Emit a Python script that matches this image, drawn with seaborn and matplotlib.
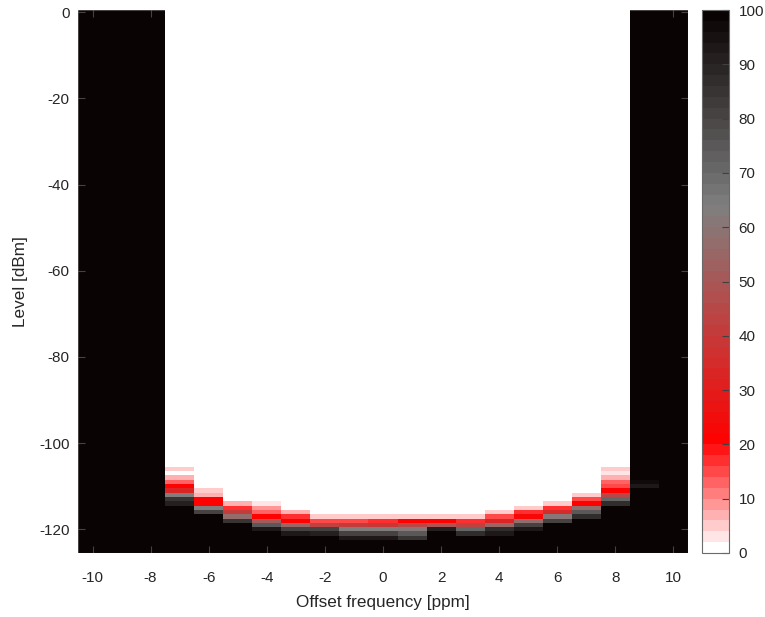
import numpy as np
import pandas as pd
import matplotlib
matplotlib.use("Agg")
import matplotlib.pyplot as plt
import seaborn as sns
from matplotlib.colors import LinearSegmentedColormap

plt.rcParams['font.family'] = ['Liberation Sans', 'DejaVu Sans']

# ---- data ----
freqs = list(range(-10, 11))            # offset frequency [ppm]
levels = list(range(0, -126, -1))       # level [dBm]
black_cols = [-10, -9, -8, 9, 10]       # columns that are 100 % everywhere
curve_freqs = list(range(-7, 9))
curve_top = [-106, -111, -114, -114, -116, -117, -117, -117,
             -117, -117, -117, -116, -115, -114, -112, -106]
p_m7 = [5, 1, 6, 12, 20, 33, 62, 85, 90]
p_m6 = [4, 7, 20, 21, 62, 80]
p_m5 = [6, 17, 40, 58, 85]
p_m4 = [3, 8, 12, 20, 50, 75, 92]
p_m3 = [6, 16, 21, 55, 80, 92]
p_m2 = [5, 15, 42, 80, 90]
p_m1 = [5, 15, 40, 63, 80, 92]
p_0 = [4, 16, 38, 62, 80, 92]
p_1 = [5, 20, 45, 60, 75, 85]
p_2 = [4, 20, 48, 90]
p_3 = [5, 16, 42, 70, 87]
p_4 = [5, 15, 33, 55, 87, 92]
p_5 = [4, 17, 22, 58, 80, 92]
p_6 = [5, 16, 35, 60, 80]
p_7 = [5, 15, 21, 58, 75, 87]
p_8 = [4, 2, 7, 12, 15, 21, 45, 70, 87]
profiles = [p_m7, p_m6, p_m5, p_m4, p_m3, p_m2, p_m1, p_0,
            p_1, p_2, p_3, p_4, p_5, p_6, p_7, p_8]
col9_levels = [-109, -110]
col9_values = [96, 93]

xticks = [-10, -8, -6, -4, -2, 0, 2, 4, 6, 8, 10]
yticks = [0, -20, -40, -60, -80, -100, -120]
cticks = [0, 10, 20, 30, 40, 50, 60, 70, 80, 90, 100]

# ---- build matrix ----
df = pd.DataFrame(100.0, index=levels, columns=freqs)
for f, top, prof in zip(curve_freqs, curve_top, profiles):
    col = np.full(len(levels), 100.0)
    for i, L in enumerate(levels):
        k = top - L
        if L > top:
            col[i] = 0.0
        elif k < len(prof):
            col[i] = prof[k]
    df[f] = col
for L, v in zip(col9_levels, col9_values):
    df.loc[L, 9] = v

# ---- colormap ----
cmap = LinearSegmentedColormap.from_list(
    "wrgk",
    [(0.0, (1, 1, 1)), (0.20, (1, 0, 0)), (0.64, (0.5, 0.5, 0.5)),
     (1.0, (0.04, 0.01, 0.01))]).resampled(50)

fig = plt.figure(figsize=(7.65, 6.17), dpi=100)
ax = fig.add_axes([78 / 765, (617 - 553) / 617, 610 / 765, 543 / 617])
cax = fig.add_axes([702 / 765, (617 - 553) / 617, 27 / 765, 543 / 617])

sns.heatmap(df, ax=ax, cbar_ax=cax, cmap=cmap, vmin=0, vmax=100,
            xticklabels=False, yticklabels=False, rasterized=True)

text_c = '#262626'
faint = (1, 1, 1, 0.25)
ax.set_xticks([freqs.index(t) + 0.5 for t in xticks])
ax.set_xticklabels([str(t) for t in xticks])
ax.set_yticks([levels.index(t) + 0.5 for t in yticks])
ax.set_yticklabels([str(t) for t in yticks])
ax.tick_params(axis='both', direction='in', length=5, color=faint,
               labelcolor=text_c, labelsize=11, top=True, right=True,
               labeltop=False, labelright=False)
ax.tick_params(axis='x', pad=13)
ax.tick_params(axis='y', pad=6, rotation=0)
for s in ax.spines.values():
    s.set_visible(True)
    s.set_color(faint)
    s.set_linewidth(0.8)
ax.set_xlabel('Offset frequency [ppm]', fontsize=12.3, color=text_c, labelpad=7)
ax.set_ylabel('Level [dBm]', fontsize=12.3, color=text_c, labelpad=8)

cbar = ax.collections[0].colorbar
cbar.set_ticks(cticks)
cbar.set_ticklabels([str(t) for t in cticks])
cbar.ax.tick_params(direction='in', length=5, color='#404040',
                    labelcolor=text_c, labelsize=11, pad=7)
cbar.outline.set_edgecolor('#6a6a6a')
cbar.outline.set_linewidth(0.8)

fig.savefig('out.png', dpi=100)
